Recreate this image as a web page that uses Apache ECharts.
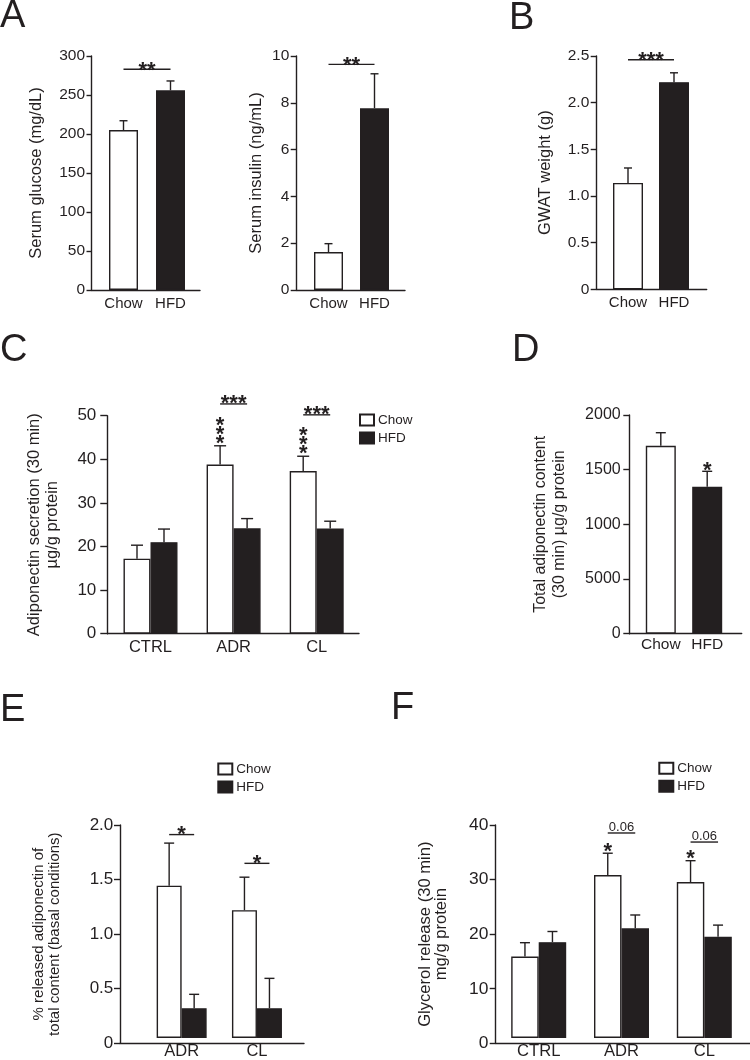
<!DOCTYPE html>
<html><head><meta charset="utf-8">
<script src="https://cdn.jsdelivr.net/npm/echarts@6/dist/echarts.min.js"></script>
<style>html,body{margin:0;padding:0;background:#fff}#c{width:750px;height:1060px}</style>
</head><body><div id="c"></div><script>
// ---------------- data ----------------
const groupsAB = ['Chow', 'HFD'];
// A: serum glucose
const glucoseMean = [205, 256];
const glucoseSem = [12, 12];
const glucoseTicks = ['0', '50', '100', '150', '200', '250', '300'];
const glucoseSig = [[0, 283, 1, '**']];
// A: serum insulin
const insulinMean = [1.62, 7.77];
const insulinSem = [0.36, 1.47];
const insulinTicks = ['0', '2', '4', '6', '8', '10'];
const insulinSig = [[0, 9.64, 1, '**']];
// B: GWAT weight
const gwatMean = [1.14, 2.22];
const gwatSem = [0.16, 0.10];
const gwatTicks = ['0', '0.5', '1.0', '1.5', '2.0', '2.5'];
const gwatSig = [[0, 2.46, 1, '***']];
// C: adiponectin secretion
const secCats = ['CTRL', 'ADR', 'CL'];
const secChow = [17.2, 38.8, 37.3];
const secChowSem = [3.1, 4.3, 3.4];
const secHfd = [21.0, 24.2, 24.1];
const secHfdSem = [3.0, 2.2, 1.7];
const secTicks = ['0', '10', '20', '30', '40', '50'];
const secSig = [[1, 52.7, 1, '***'], [2, 50.2, 2, '***']];
const secChowStars = [[1, 43.1, '*\n*\n*'], [2, 40.8, '*\n*\n*']];
// D: total adiponectin content
const contentMean = [1719, 1344];
const contentSem = [119, 141];
const contentTicks = ['0', '5000', '1000', '1500', '2000'];
const contentStars = [[1, 1485, '*']];
// E: % released adiponectin
const relCats = ['ADR', 'CL'];
const relChow = [1.43, 1.20];
const relChowSem = [0.40, 0.31];
const relHfd = [0.28, 0.28];
const relHfdSem = [0.13, 0.28];
const relTicks = ['0', '0.5', '1.0', '1.5', '2.0'];
const relSig = [[0, 1.91, 0, '*'], [1, 1.64, 1, '*']];
// F: glycerol release
const glyCats = ['CTRL', 'ADR', 'CL'];
const glyChow = [15.3, 30.6, 29.3];
const glyChowSem = [2.6, 4.1, 4.0];
const glyHfd = [18.0, 20.6, 19.0];
const glyHfdSem = [2.0, 2.5, 2.2];
const glyTicks = ['0', '10', '20', '30', '40'];
const glySig = [[1, 38.5, 1, '0.06'], [2, 36.8, 2, '0.06']];
const glyChowStars = [[1, 34.7, '*'], [2, 33.3, '*']];
const legendNames = ['Chow', 'HFD'];
const panelLetters = ['A', 'B', 'C', 'D', 'E', 'F'];

// ---------------- style ----------------
const INK = '#231f20';
const FONT = "'Liberation Sans', Arial, Helvetica, sans-serif";
const LW = 1.4;
const WHITE_STYLE = { color: '#ffffff', borderColor: INK, borderWidth: LW };
const BLACK_STYLE = { color: INK, borderColor: INK, borderWidth: LW };
const STAR_SIZE = 22;
const STAR_FONT = 'bold ' + STAR_SIZE + 'px ' + FONT;
const STAR_CORR = 0.27 * STAR_SIZE;

const grid = [], xAxis = [], yAxis = [], series = [], legend = [], title = [];

function panel(c) {
  const ai = grid.length;
  grid.push({ left: c.ax[0], top: c.ax[1], width: c.ax[2] - c.ax[0], height: c.ax[3] - c.ax[1] });
  xAxis.push({ gridIndex: ai, type: 'value', min: 0, max: 1,
    axisLine: { show: true, onZero: false, lineStyle: { color: INK, width: LW } },
    axisTick: { show: false }, axisLabel: { show: false }, splitLine: { show: false } });
  yAxis.push({ gridIndex: ai, type: 'value', min: 0, max: c.max, interval: c.step,
    axisLine: { show: true, onZero: false, lineStyle: { color: INK, width: LW } },
    axisTick: { show: true, length: c.tickLen, lineStyle: { color: INK, width: LW } },
    axisLabel: { color: INK, fontFamily: FONT, fontSize: c.tickFont, margin: c.tickMargin,
      formatter: v => c.ticks[Math.round(v / c.step)] },
    splitLine: { show: false },
    name: c.name, nameLocation: 'middle', nameRotate: 90, nameGap: c.nameGap,
    nameTextStyle: { color: INK, fontFamily: FONT, fontSize: c.nameFont, lineHeight: c.nameLH } });
  const bi = grid.length;
  grid.push({ left: c.bar[0], top: c.ax[1], width: c.bar[1], height: c.ax[3] - c.ax[1] });
  xAxis.push({ gridIndex: bi, type: 'category', data: c.cats,
    axisLine: { show: false }, axisTick: { show: false },
    axisLabel: { color: INK, fontFamily: FONT, fontSize: c.catFont, margin: c.catMargin, interval: 0 } });
  yAxis.push({ gridIndex: bi, type: 'value', min: 0, max: c.max, show: false });
  return bi;
}

function errSeries(bi, means, sems, off, cap) {
  return { type: 'custom', xAxisIndex: bi, yAxisIndex: bi, silent: true, z: 3,
    data: means.map((m, i) => [i, m, m + sems[i]]),
    renderItem(p, api) {
      const a = api.coord([api.value(0), api.value(1)]);
      const b = api.coord([api.value(0), api.value(2)]);
      const x = a[0] + off;
      return { type: 'group', children: [
        { type: 'line', shape: { x1: x, y1: a[1], x2: x, y2: b[1] }, style: { stroke: INK, lineWidth: LW } },
        { type: 'line', shape: { x1: x - cap / 2, y1: b[1], x2: x + cap / 2, y2: b[1] }, style: { stroke: INK, lineWidth: LW } }
      ] };
    } };
}

function sigSeries(bi, items, off, font, gap) {
  return { type: 'custom', xAxisIndex: bi, yAxisIndex: bi, silent: true, z: 4,
    data: items.map(d => [d[0], d[1], d[2]]),
    renderItem(p, api) {
      const d = items[p.dataIndex];
      const a = api.coord([d[0], d[1]]), b = api.coord([d[2], d[1]]);
      const x1 = a[0] - off, x2 = b[0] + off, y = a[1];
      return { type: 'group', children: [
        { type: 'line', shape: { x1: x1, y1: y, x2: x2, y2: y }, style: { stroke: INK, lineWidth: LW } },
        { type: 'text', style: { text: d[3], x: (x1 + x2) / 2, y: y - gap, align: 'center', verticalAlign: 'middle', font: font, fill: INK } }
      ] };
    } };
}

function starSeries(bi, items, off, gap, lh) {
  return { type: 'custom', xAxisIndex: bi, yAxisIndex: bi, silent: true, z: 4,
    data: items.map(d => [d[0], d[1]]),
    renderItem(p, api) {
      const d = items[p.dataIndex];
      const a = api.coord([d[0], d[1]]);
      return { type: 'text', style: { text: d[2], x: a[0] + off, y: a[1] - gap + STAR_CORR,
        align: 'center', verticalAlign: 'middle', font: STAR_FONT, lineHeight: lh, fill: INK } };
    } };
}

function singleBars(bi, means, sems, bw, cap) {
  series.push({ type: 'bar', xAxisIndex: bi, yAxisIndex: bi, barWidth: bw, silent: true, z: 2,
    data: means.map((v, i) => ({ value: v, itemStyle: i === 0 ? WHITE_STYLE : BLACK_STYLE })) });
  series.push(errSeries(bi, means, sems, 0, cap));
}

function groupBars(bi, chow, chowSem, hfd, hfdSem, bw, cap) {
  series.push({ type: 'bar', name: legendNames[0], xAxisIndex: bi, yAxisIndex: bi, barWidth: bw, barGap: '0%', silent: true, z: 2, itemStyle: WHITE_STYLE, data: chow });
  series.push({ type: 'bar', name: legendNames[1], xAxisIndex: bi, yAxisIndex: bi, barWidth: bw, barGap: '0%', silent: true, z: 2, itemStyle: BLACK_STYLE, data: hfd });
  series.push(errSeries(bi, chow, chowSem, -bw / 2, cap));
  series.push(errSeries(bi, hfd, hfdSem, bw / 2, cap));
}

function addLegend(left, top) {
  legend.push({ left: left, top: top, orient: 'vertical', padding: 0, itemGap: 4, itemWidth: 14, itemHeight: 11,
    icon: 'rect', selectedMode: false, data: legendNames,
    textStyle: { color: INK, fontFamily: FONT, fontSize: 13.5, lineHeight: 13, padding: [0, 0, 0, -1] } });
}

// ---------------- panels ----------------
// A glucose
let g = panel({ ax: [91.5, 56, 200, 290], bar: [100, 94], cats: groupsAB, max: 300, step: 50, ticks: glucoseTicks,
  tickFont: 15.5, tickLen: 5, tickMargin: 6.5, catFont: 15, catMargin: 6, name: 'Serum glucose (mg/dL)', nameGap: 46.5, nameFont: 16.5 });
singleBars(g, glucoseMean, glucoseSem, 29, 8);
series.push(sigSeries(g, glucoseSig, 0, STAR_FONT, 4.6 - STAR_CORR));
// A insulin
g = panel({ ax: [296.7, 56, 405, 290], bar: [305.5, 92], cats: groupsAB, max: 10, step: 2, ticks: insulinTicks,
  tickFont: 15.5, tickLen: 6, tickMargin: 7.4, catFont: 15, catMargin: 6, name: 'Serum insulin (ng/mL)', nameGap: 32, nameFont: 16.5 });
singleBars(g, insulinMean, insulinSem, 29, 8);
series.push(sigSeries(g, insulinSig, 0, STAR_FONT, 4.6 - STAR_CORR));
// B
g = panel({ ax: [596.7, 56, 706.7, 289.3], bar: [605, 92], cats: groupsAB, max: 2.5, step: 0.5, ticks: gwatTicks,
  tickFont: 15.5, tickLen: 6, tickMargin: 7.4, catFont: 15, catMargin: 6, name: 'GWAT weight (g)', nameGap: 43, nameFont: 16.5 });
singleBars(g, gwatMean, gwatSem, 30, 8);
series.push(sigSeries(g, gwatSig, 0, STAR_FONT, 4.6 - STAR_CORR));
// C
g = panel({ ax: [107.3, 415.7, 359, 633.7], bar: [108.95, 249.3], cats: secCats, max: 50, step: 10, ticks: secTicks,
  tickFont: 17, tickLen: 7, tickMargin: 11, catFont: 16.5, catMargin: 5, name: 'Adiponectin secretion (30 min)\nµg/g protein', nameGap: 45.6, nameFont: 16.5, nameLH: 18 });
groupBars(g, secChow, secChowSem, secHfd, secHfdSem, 27, 12);
series.push(sigSeries(g, secSig, 13.5, STAR_FONT, 5.5 - STAR_CORR));
series.push(starSeries(g, secChowStars, -13.5, 16.7, 9));
addLegend(359, 413);
// D
g = panel({ ax: [629.3, 415, 741.7, 633.7], bar: [637.6, 92.8], cats: groupsAB, max: 2000, step: 500, ticks: contentTicks,
  tickFont: 16, tickLen: 6, tickMargin: 8.6, catFont: 15.5, catMargin: 3.5, name: 'Total adiponectin content\n(30 min) µg/g protein', nameGap: 61, nameFont: 16, nameLH: 18.4 });
singleBars(g, contentMean, contentSem, 30, 10);
series.push(starSeries(g, contentStars, 0, 6.8, 9));
// E
g = panel({ ax: [120, 825, 304, 1043.3], bar: [144, 150.6], cats: relCats, max: 2, step: 0.5, ticks: relTicks,
  tickFont: 17, tickLen: 6, tickMargin: 6.7, catFont: 16.5, catMargin: 5, name: '% released adiponectin of\ntotal content (basal conditions)', nameGap: 57, nameFont: 15, nameLH: 16 });
groupBars(g, relChow, relChowSem, relHfd, relHfdSem, 25, 10);
series.push(sigSeries(g, relSig, 12.5, STAR_FONT, 5.3 - STAR_CORR));
addLegend(217.3, 762);
// F
g = panel({ ax: [495.7, 825, 750, 1043.3], bar: [497.3, 248.4], cats: glyCats, max: 40, step: 10, ticks: glyTicks,
  tickFont: 17.4, tickLen: 6, tickMargin: 7.4, catFont: 16.6, catMargin: 5, name: 'Glycerol release (30 min)\nmg/g protein', nameGap: 45.7, nameFont: 16.6, nameLH: 16.7 });
groupBars(g, glyChow, glyChowSem, glyHfd, glyHfdSem, 27.5, 10);
series.push(sigSeries(g, glySig, 13.75, '13px ' + FONT, 5.8));
series.push(starSeries(g, glyChowStars, -13.75, 7.6, 9));
addLegend(658.3, 761.3);

// panel letters
const letterPos = [[0, -2], [509, 0], [0, 332], [512, 332], [0, 692], [391, 690]];
panelLetters.forEach((t, i) => title.push({ text: t, left: letterPos[i][0], top: letterPos[i][1], padding: 0,
  textStyle: { fontSize: 38, fontWeight: 'normal', color: INK, fontFamily: FONT } }));

const chart = echarts.init(document.getElementById('c'), null, { renderer: 'canvas' });
chart.setOption({ animation: false, backgroundColor: '#ffffff', title, legend, grid, xAxis, yAxis, series });
</script></body></html>
